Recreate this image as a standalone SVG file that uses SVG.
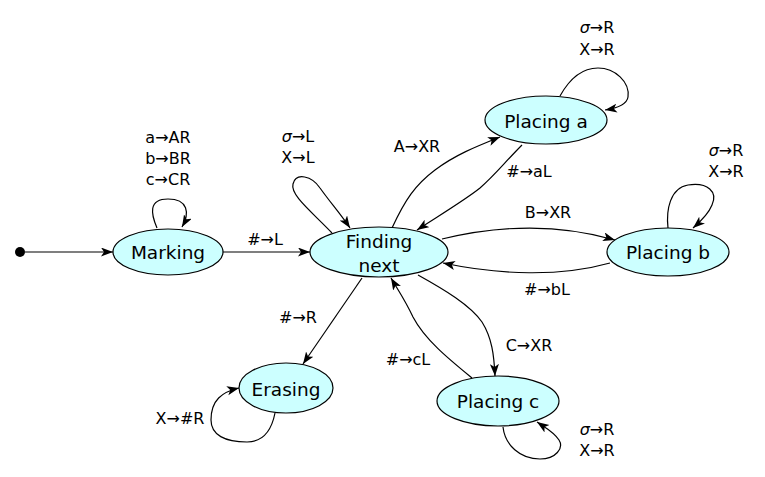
<svg xmlns="http://www.w3.org/2000/svg" width="765" height="477" viewBox="0 0 765 477">
<style>
.node ellipse{fill:#ccffff;stroke:#000;stroke-width:1.2}
.nt{font-family:"DejaVu Sans",Verdana,sans-serif;font-size:18.5px;text-anchor:middle;fill:#000}
.lb{font-family:"DejaVu Sans",Verdana,sans-serif;font-size:16px;text-anchor:middle;fill:#000}
.sg{font-style:italic}
#edges path{fill:none;stroke:#000;stroke-width:1.2;marker-end:url(#ah)}
</style>
<defs>
<marker id="ah" markerUnits="userSpaceOnUse" markerWidth="14" markerHeight="10" refX="12" refY="4.5" orient="auto">
<path d="M0,0 L12,4.5 L0,9 L3,4.5 z" fill="#000"/>
</marker>
</defs>
<rect width="765" height="477" fill="#fff"/>
<g id="edges">
<circle cx="20" cy="252" r="5" fill="#000"/>
<path d="M25,252 L113,252"/>
<path d="M157,228 C151,214 148,199 168,199 C188,199 190,213 182,227"/>
<path d="M223,252 L310,252"/>
<path d="M332,233 C312,212 290,195 293,184 C296,172 312,176 320,188 C330,202 342,216 350,228"/>
<path d="M392,228 C405,200 415,185 435,170 C455,155 475,147 500,137"/>
<path d="M522,145 C505,162 495,175 480,188 C465,200 440,215 417,230"/>
<path d="M560,96 C570,78 582,68 598,68 C615,68 630,82 628,97 C627,104 618,108 605,110"/>
<path d="M442,239 C500,225 560,224 615,240"/>
<path d="M610,263 C560,277 500,275 443,263"/>
<path d="M668,228 C666,210 670,188 688,185 C708,182 718,192 712,205 C708,215 700,222 693,228"/>
<path d="M362,278 L303,364"/>
<path d="M275,413 C272,428 265,442 247,442 C225,442 211,435 211,420 C211,400 222,392 239,388"/>
<path d="M418,275 C445,290 470,305 482,322 C492,338 494,355 495,376"/>
<path d="M472,378 C450,360 425,340 413,317 C405,300 398,290 391,278"/>
<path d="M503,427 C505,445 520,459 540,459 C556,459 564,448 559,440 C554,432 546,428 537,422"/>
</g>
<g id="labels">
<text class="lb" x="168" y="143">a→AR</text>
<text class="lb" x="168" y="164">b→BR</text>
<text class="lb" x="168" y="185">c→CR</text>
<text class="lb" x="265" y="245">#→L</text>
<text class="lb" x="298" y="142"><tspan class="sg">σ</tspan>→L</text>
<text class="lb" x="298" y="163">X→L</text>
<text class="lb" x="417" y="152">A→XR</text>
<text class="lb" x="529" y="177">#→aL</text>
<text class="lb" x="597" y="33"><tspan class="sg">σ</tspan>→R</text>
<text class="lb" x="597" y="55">X→R</text>
<text class="lb" x="548" y="218">B→XR</text>
<text class="lb" x="547" y="295">#→bL</text>
<text class="lb" x="726" y="156"><tspan class="sg">σ</tspan>→R</text>
<text class="lb" x="726" y="177">X→R</text>
<text class="lb" x="298" y="323">#→R</text>
<text class="lb" x="180" y="424">X→#R</text>
<text class="lb" x="408" y="365">#→cL</text>
<text class="lb" x="529" y="351">C→XR</text>
<text class="lb" x="597" y="435"><tspan class="sg">σ</tspan>→R</text>
<text class="lb" x="597" y="456">X→R</text>
</g>
<g id="marking" class="node"><ellipse cx="168" cy="252" rx="55" ry="23"/><text class="nt" x="168" y="259">Marking</text></g>
<g id="finding" class="node"><ellipse cx="379" cy="252" rx="69" ry="25"/><text class="nt" x="379" y="248">Finding</text><text class="nt" x="379" y="272">next</text></g>
<g id="placing-a" class="node"><ellipse cx="546" cy="120" rx="61" ry="24"/><text class="nt" x="546" y="128">Placing a</text></g>
<g id="placing-b" class="node"><ellipse cx="668" cy="252" rx="61" ry="24"/><text class="nt" x="668" y="259">Placing b</text></g>
<g id="erasing" class="node"><ellipse cx="286" cy="388" rx="47" ry="25"/><text class="nt" x="286" y="396">Erasing</text></g>
<g id="placing-c" class="node"><ellipse cx="498" cy="401" rx="61" ry="25"/><text class="nt" x="498" y="408">Placing c</text></g>
</svg>
